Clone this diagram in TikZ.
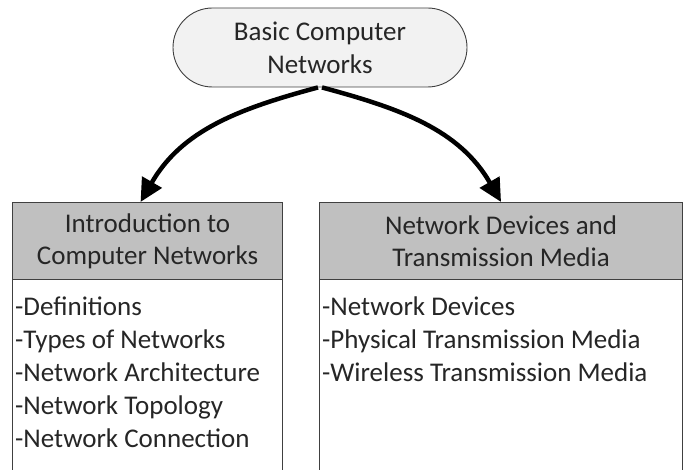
\documentclass[tikz,border=0pt]{standalone}
\usepackage{fontspec}
\setmainfont{Carlito}
\usetikzlibrary{arrows.meta,shapes.misc}
\definecolor{hdr}{HTML}{C0C0C0}
\definecolor{topfill}{HTML}{F2F2F2}
\definecolor{edge}{HTML}{404040}
\definecolor{txt}{HTML}{262626}
\tikzset{
  topbox/.style={draw=edge, line width=0.9pt, fill=topfill, rounded rectangle,
    minimum width=294pt, minimum height=79pt, inner sep=0pt, align=center,
    text=txt, font=\fontsize{27}{33}\selectfont},
  headbox/.style={draw=edge, line width=1.1pt, fill=hdr, anchor=north west,
    inner sep=0pt, align=center, text=txt, font=\fontsize{27}{32}\selectfont},
  bodybox/.style={draw=edge, line width=1.1pt, fill=white, anchor=north west, inner sep=0pt},
  listtext/.style={anchor=north west, align=left, inner sep=0pt, text=txt,
    font=\fontsize{27}{33}\selectfont},
  bigarrow/.style={line width=4.5pt, -{Triangle[length=23pt,width=22pt]}}
}
\begin{document}
\begin{tikzpicture}[x=1pt,y=-1pt]
\useasboundingbox (0,0) rectangle (686,470);
\clip (0,0) rectangle (686,470);
% top node
\node[topbox] (top) at (320,47.5) {Basic Computer\\Networks};
% left box
\node[bodybox, minimum width=270pt, minimum height=200pt] (lbody) at (12,279) {};
\node[headbox, minimum width=270pt, minimum height=77pt] (lhead) at (12,202) {Introduction to\\Computer Networks};
\node[listtext] (llist) at (15,297) {-Definitions\\-Types of Networks\\-Network Architecture\\-Network Topology\\-Network Connection};
% right box
\node[bodybox, minimum width=363pt, minimum height=200pt] (rbody) at (319,279) {};
\node[headbox, minimum width=363pt, minimum height=77pt] (rhead) at (319,202) {Network Devices and\\Transmission Media};
\node[listtext] (rlist) at (322,297) {-Network Devices\\-Physical Transmission Media\\-Wireless Transmission Media};
% arrows
\coordinate (ls) at ([xshift=-2pt]top.south);
\coordinate (rs) at ([xshift=2pt]top.south);
\draw[bigarrow] (ls) to[out=195,in=60] ([xshift=-7pt]lhead.north);
\draw[bigarrow] (rs) to[out=-15,in=120] ([xshift=0pt]rhead.north);
\end{tikzpicture}
\end{document}
